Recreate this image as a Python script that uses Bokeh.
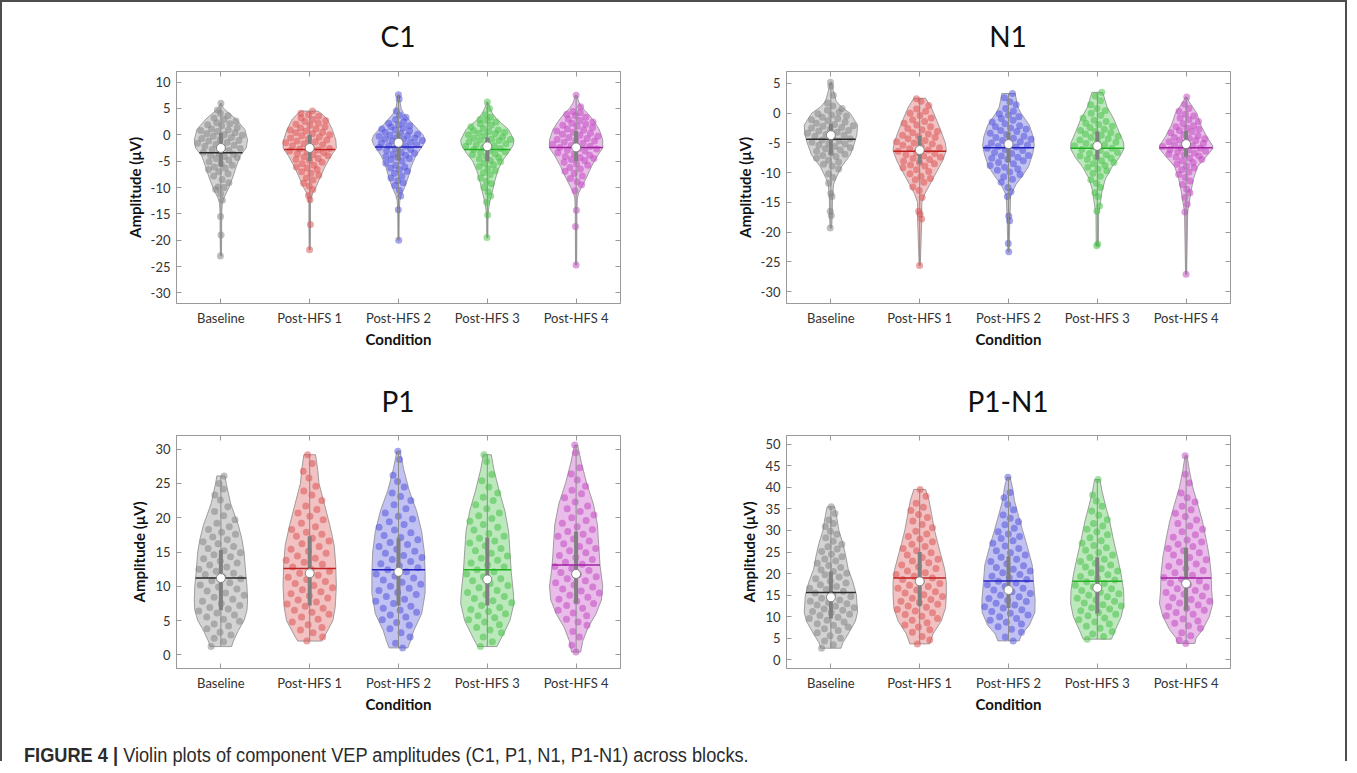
import numpy as np
from bokeh.plotting import figure
from bokeh.models import FixedTicker, LinearAxis, Range1d, Div
from bokeh.layouts import row, column
from bokeh.embed import file_html
from bokeh.resources import INLINE

conditions = ["Baseline", "Post-HFS 1", "Post-HFS 2", "Post-HFS 3", "Post-HFS 4"]
titles = ["C1", "N1", "P1", "P1-N1"]

# ---------------- C1 ----------------
c1_base_pts = [-23.0, -19.0, -15.5, -12.4, -11.2, -10.4, -10.0, -9.9, -9.1, -8.5,
               -7.8, -7.4, -7.0, -6.6, -6.3, -6.1, -5.8, -5.5, -5.1, -4.8, -4.5, -4.3, -4.1,
               -3.9, -3.7, -3.5, -3.3, -3.0, -2.8, -2.6, -2.4, -2.2, -2.0, -1.8, -1.6, -1.4, -1.2, -1.1,
               -0.9, -0.7, -0.5, -0.3, -0.1, 0.0, 0.2, 0.4, 0.6, 0.8, 0.9,
               1.1, 1.4, 1.7, 1.9, 2.1, 2.3, 2.6, 2.9, 3.2, 3.6, 4.1, 4.7, 6.0]
c1_base_lvl = [-23, -19, -15, -13, -12, -10, -8, -6, -4, -2.5, -1, 1, 3, 5, 6]
c1_base_wid = [0.02, 0.03, 0.03, 0.05, 0.11, 0.3, 0.45, 0.58, 0.72, 0.95, 1.0, 0.9, 0.56, 0.1, 0.0]

c1_h1_pts = [-21.8, -17.0, -12.3, -11.5, -10.4, -9.7, -9.2, -8.6, -8.2,
             -7.7, -7.3, -7.0, -6.6, -6.3, -6.1, -5.8, -5.5, -5.2, -4.9, -4.7, -4.5, -4.2, -4.0,
             -3.8, -3.6, -3.4, -3.2, -3.1, -2.9, -2.7, -2.6, -2.4, -2.1, -1.9, -1.7, -1.5, -1.3, -1.2, -1.0,
             -0.8, -0.6, -0.4, -0.2, 0.0, 0.2, 0.4, 0.5, 0.7, 0.9,
             1.1, 1.3, 1.5, 1.8, 2.0, 2.2, 2.5, 2.7, 2.9, 3.2, 3.5, 3.8, 4.1, 4.5]
c1_h1_lvl = [-21.8, -17, -13, -12, -11, -10, -8, -6, -4, -2.5, -1, 1, 3, 4.0, 4.5]
c1_h1_wid = [0.02, 0.03, 0.03, 0.06, 0.12, 0.23, 0.4, 0.58, 0.8, 1.0, 0.98, 0.85, 0.65, 0.45, 0.3]

c1_h2_pts = [-20.0, -14.2, -11.6, -10.5, -9.6, -9.1, -8.7, -8.2,
             -7.8, -7.3, -6.9, -6.6, -6.3, -6.1, -5.8, -5.4, -5.0, -4.7, -4.5, -4.3, -4.1,
             -3.9, -3.7, -3.5, -3.3, -3.0, -2.8, -2.6, -2.4, -2.2, -2.1,
             -1.9, -1.7, -1.5, -1.4, -1.2, -1.1, -0.9, -0.8, -0.6, -0.5, -0.3, -0.2, -0.1,
             0.1, 0.3, 0.5, 0.7, 0.9, 1.1, 1.3, 1.5, 1.7, 1.9,
             2.2, 2.5, 2.9, 3.3, 3.7, 4.5, 6.8, 7.6]
c1_h2_lvl = [-20, -14.2, -12.5, -11.5, -10, -8, -6, -4, -2, -1, 0, 2, 4, 5, 6.5, 7.6]
c1_h2_wid = [0.02, 0.03, 0.05, 0.1, 0.23, 0.37, 0.48, 0.65, 0.92, 1.0, 0.92, 0.55, 0.2, 0.1, 0.05, 0.02]

c1_h3_pts = [-19.5, -15.2, -12.8, -11.6, -10.8, -10.0, -9.3,
             -8.8, -8.2, -7.6, -7.2, -6.8, -6.4, -6.0, -5.7, -5.4, -5.1,
             -4.9, -4.6, -4.3, -4.1, -3.8, -3.6, -3.4, -3.2, -3.0, -2.8, -2.6, -2.4, -2.2, -2.1,
             -1.9, -1.7, -1.5, -1.3, -1.1, -1.0, -0.9, -0.8, -0.6, -0.4, -0.2, 0.0, 0.2, 0.3, 0.5, 0.6, 0.8, 0.9,
             1.2, 1.5, 1.8, 2.1, 2.4, 2.7, 2.9, 3.3, 3.8, 5.0, 6.2]
c1_h3_lvl = [-19.5, -15, -13, -11, -9, -7, -5, -3.5, -2, -1, 1, 3, 4, 5, 6.2]
c1_h3_wid = [0.02, 0.03, 0.08, 0.18, 0.27, 0.38, 0.55, 0.78, 0.97, 1.0, 0.8, 0.35, 0.2, 0.1, 0.02]

c1_h4_pts = [-24.7, -17.4, -14.3, -10.6, -9.5, -8.9, -8.3,
             -7.8, -7.3, -6.9, -6.5, -6.2, -5.8, -5.5, -5.2, -4.9, -4.7, -4.5, -4.3, -4.1,
             -3.9, -3.6, -3.4, -3.1, -2.9, -2.7, -2.6, -2.4, -2.2, -2.0, -1.8, -1.6, -1.4, -1.2, -1.1,
             -0.9, -0.7, -0.5, -0.3, -0.1, 0.1, 0.3, 0.5, 0.7, 0.9,
             1.1, 1.4, 1.6, 1.8, 2.0, 2.2, 2.4, 2.7, 3.0, 3.3, 3.6, 3.9, 4.2, 4.4, 5.3, 7.5]
c1_h4_lvl = [-24.7, -17.4, -14.3, -12, -11, -10, -8, -6, -4, -2.5, -1, 1, 2.5, 4, 5, 6, 7.5]
c1_h4_wid = [0.02, 0.03, 0.03, 0.05, 0.1, 0.2, 0.4, 0.58, 0.8, 1.0, 1.0, 0.87, 0.68, 0.45, 0.25, 0.12, 0.02]

c1_mean = [-3.4, -2.8, -2.3, -2.8, -2.4]
c1_median = [-2.5, -2.5, -1.5, -2.2, -2.4]
c1_q1 = [-6.0, -5.0, -4.8, -5.0, -5.0]
c1_q3 = [0.4, 0.0, 0.5, -0.5, 0.7]

# ---------------- N1 ----------------
n1_base_pts = [-19.3, -17.2, -16.5, -14.0, -13.5, -11.8, -10.8, -10.2, -9.4,
               -8.9, -8.6, -8.2, -7.9, -7.6, -7.3, -7.1,
               -6.9, -6.7, -6.4, -6.2, -6.0, -5.8, -5.6, -5.4, -5.2, -5.1,
               -4.9, -4.7, -4.5, -4.3, -4.1, -3.9, -3.7, -3.6,
               -3.4, -3.2, -3.0, -2.9, -2.7, -2.5, -2.4, -2.2, -2.1,
               -1.9, -1.7, -1.5, -1.3, -1.1, -0.9, -0.7, -0.5, -0.3, -0.1,
               0.2, 0.5, 0.8, 1.2, 1.7, 3.0, 4.5, 5.2]
n1_base_lvl = [-19.3, -17.2, -14, -12, -11, -9, -7, -5, -3.5, -2, 0, 1, 2, 4, 5.2]
n1_base_wid = [0.03, 0.05, 0.06, 0.1, 0.18, 0.4, 0.73, 0.89, 0.98, 1.0, 0.72, 0.4, 0.2, 0.08, 0.02]

n1_h1_pts = [-25.6, -17.8, -17.0, -16.5, -14.2, -13.0, -12.4,
             -11.6, -11.2, -11.0, -10.6, -10.2, -9.8, -9.5, -9.2, -8.9, -8.7, -8.5, -8.3, -8.1,
             -7.8, -7.6, -7.4, -7.2, -7.0, -6.8, -6.6, -6.4, -6.2, -6.0, -5.8, -5.6, -5.4, -5.2, -5.0,
             -4.8, -4.6, -4.3, -4.1, -3.9, -3.7, -3.5, -3.3, -3.1,
             -2.8, -2.6, -2.3, -2.0, -1.7, -1.4, -1.1, -0.8, -0.4, 0.0, 0.3, 0.7, 1.3, 2.0, 2.4]
n1_h1_lvl = [-25.6, -17.8, -15, -13.5, -12, -10, -8, -6.3, -5, -3, -1, 1, 2.5]
n1_h1_wid = [0.02, 0.08, 0.08, 0.2, 0.38, 0.62, 0.86, 1.0, 0.96, 0.8, 0.62, 0.43, 0.22]

n1_h2_pts = [-23.3, -21.9, -18.1, -17.3, -14.0, -13.2, -12.5, -11.6, -11.1, -10.7,
             -10.3, -9.9, -9.6, -9.4, -9.1, -8.8, -8.5, -8.3, -8.0, -7.8, -7.6, -7.4, -7.2, -7.1,
             -6.8, -6.6, -6.3, -6.1, -5.9, -5.7, -5.6, -5.4, -5.2, -5.0, -4.8, -4.6, -4.4, -4.2, -4.1,
             -3.9, -3.6, -3.4, -3.1, -2.9, -2.7, -2.5, -2.3, -2.1,
             -1.8, -1.5, -1.2, -0.9, -0.6, -0.3, -0.1, 0.3, 0.8, 1.4, 1.9, 2.6, 3.3]
n1_h2_lvl = [-23.3, -21.9, -18.1, -14, -13.5, -12, -10.5, -9, -7, -5.5, -4, -2, 0, 1, 3.3]
n1_h2_wid = [0.02, 0.03, 0.05, 0.08, 0.12, 0.28, 0.53, 0.75, 0.9, 0.97, 0.93, 0.78, 0.47, 0.35, 0.25]

n1_h3_pts = [-22.3, -22.0, -16.5, -15.6, -14.0, -13.4, -12.5, -11.8, -11.2,
             -10.6, -10.1, -9.7, -9.4, -9.1, -8.8, -8.5, -8.3, -8.0, -7.8, -7.6,
             -7.4, -7.2, -7.0, -6.8, -6.6, -6.3, -6.1, -5.9, -5.7, -5.5, -5.3, -5.1,
             -4.9, -4.7, -4.5, -4.3, -4.1, -3.9, -3.7, -3.5, -3.3, -3.1,
             -2.9, -2.7, -2.4, -2.2, -1.9, -1.7, -1.4, -1.2,
             -0.8, -0.4, 0.0, 0.4, 0.8, 1.4, 2.1, 2.9, 3.5]
n1_h3_lvl = [-22.3, -22, -17, -15, -13, -11, -9, -7.5, -6, -5, -3, -1, 1, 3.5]
n1_h3_wid = [0.03, 0.04, 0.05, 0.12, 0.18, 0.31, 0.56, 0.82, 1.0, 0.99, 0.8, 0.62, 0.37, 0.2]

n1_h4_pts = [-27.1, -16.6, -15.3, -14.2, -13.4, -12.8, -12.0, -11.4,
             -10.8, -10.3, -9.9, -9.5, -9.2, -8.9, -8.6, -8.3, -8.0, -7.8, -7.6,
             -7.4, -7.2, -7.0, -6.9, -6.7, -6.5, -6.4, -6.2, -6.1, -5.9, -5.8, -5.6, -5.5,
             -5.3, -5.1, -4.9, -4.8, -4.6, -4.5, -4.3, -4.2, -4.1,
             -3.8, -3.6, -3.3, -3.1, -2.9, -2.7, -2.5, -2.3, -2.1,
             -1.8, -1.4, -1.1, -0.8, -0.5, -0.2, 0.3, 0.8, 1.5, 2.7]
n1_h4_lvl = [-27.1, -16.5, -15, -13, -11, -9, -7.5, -6, -5.5, -4, -2, 0, 1, 2, 2.7]
n1_h4_wid = [0.02, 0.06, 0.12, 0.19, 0.28, 0.43, 0.72, 1.0, 1.0, 0.78, 0.55, 0.4, 0.25, 0.1, 0.03]

n1_mean = [-4.4, -6.4, -5.8, -5.9, -5.8]
n1_median = [-3.7, -6.2, -5.2, -5.5, -5.2]
n1_q1 = [-7.0, -8.5, -8.2, -7.8, -7.3]
n1_q3 = [-1.8, -3.8, -3.2, -3.1, -3.0]

# ---------------- P1 ----------------
p1_base_pts = [1.2, 1.9, 2.4, 2.9, 3.3, 3.8, 4.2, 4.5, 4.9, 5.2, 5.5, 5.8, 6.1, 6.4,
               6.7, 6.9, 7.2, 7.5, 7.8, 8.1, 8.4, 8.7, 9.0, 9.3, 9.6, 9.9,
               10.2, 10.5, 10.8, 11.1, 11.4, 11.7, 11.9,
               12.2, 12.5, 12.8, 13.1, 13.4, 13.7, 14.0, 14.3, 14.6, 14.9,
               15.2, 15.5, 15.8, 16.2, 16.5, 16.8, 17.2, 17.6, 17.9, 18.3, 18.7,
               19.2, 19.7, 20.3, 20.9, 21.6, 22.6, 23.3, 24.2, 25.0, 26.1]
p1_base_lvl = [1.2, 2, 3.5, 5, 6.5, 8, 10, 12, 15, 17, 19, 22, 25, 26.1]
p1_base_wid = [0.4, 0.47, 0.65, 0.87, 0.98, 1.0, 0.98, 0.93, 0.87, 0.78, 0.65, 0.37, 0.2, 0.15]

p1_h1_pts = [2.0, 2.6, 3.2, 3.6, 4.0, 4.4, 4.8, 5.2, 5.5, 5.9, 6.2, 6.5, 6.8,
             7.1, 7.4, 7.7, 8.0, 8.3, 8.6, 8.9, 9.2, 9.5, 9.8,
             10.1, 10.4, 10.7, 11.0, 11.3, 11.6, 11.9, 12.2, 12.5, 12.8,
             13.2, 13.5, 13.8, 14.1, 14.4, 14.8, 15.1, 15.4, 15.8,
             16.2, 16.6, 17.0, 17.3, 17.6, 17.9, 18.3, 18.7,
             19.2, 19.7, 20.2, 20.7, 21.2, 21.7, 22.5, 23.3, 23.9, 24.6, 25.8, 26.8, 27.9, 29.2]
p1_h1_lvl = [2.0, 3, 5, 7, 10, 13, 16, 19, 22, 25, 27, 29.2]
p1_h1_wid = [0.45, 0.6, 0.87, 0.96, 1.0, 0.98, 0.92, 0.75, 0.55, 0.35, 0.3, 0.22]

p1_h2_pts = [1.0, 1.7, 2.6, 3.2, 3.8, 4.3, 4.7, 5.1, 5.5, 5.8,
             6.2, 6.5, 6.8, 7.1, 7.5, 7.8, 8.1, 8.5, 8.8,
             9.1, 9.4, 9.7, 10.0, 10.3, 10.6, 10.9, 11.2, 11.5, 11.8,
             12.1, 12.4, 12.7, 13.0, 13.3, 13.6, 13.9, 14.2, 14.5, 14.8,
             15.1, 15.4, 15.8, 16.1, 16.4, 16.8, 17.1, 17.4, 17.8,
             18.2, 18.6, 19.0, 19.4, 19.8, 20.2, 20.7, 21.3, 21.9, 22.5, 23.1, 23.6,
             24.5, 25.3, 26.2, 28.5, 29.7]
p1_h2_lvl = [1.0, 2, 3.5, 6, 9, 12, 15, 18, 21, 24, 27, 29.7]
p1_h2_wid = [0.35, 0.45, 0.57, 0.87, 1.0, 1.0, 0.97, 0.87, 0.68, 0.4, 0.2, 0.06]

p1_h3_pts = [1.2, 1.9, 2.6, 3.2, 3.6, 4.0, 4.4, 4.8, 5.1, 5.4, 5.7, 6.0, 6.3, 6.6, 6.9, 7.2,
             7.6, 7.9, 8.2, 8.5, 8.8, 9.1, 9.4, 9.8, 10.1, 10.4, 10.8, 11.1, 11.4, 11.8,
             12.1, 12.4, 12.8, 13.1, 13.4, 13.8, 14.1, 14.4, 14.8,
             15.2, 15.5, 15.9, 16.3, 16.6, 17.0, 17.3, 17.7,
             18.2, 18.6, 19.0, 19.5, 19.9, 20.3, 20.7, 21.3, 21.9, 22.5, 23.0, 23.6,
             24.5, 25.4, 26.3, 28.2, 29.2]
p1_h3_lvl = [1.2, 3, 5, 7.5, 9, 12, 15, 18, 21, 24, 27, 29.2]
p1_h3_wid = [0.36, 0.6, 0.85, 1.0, 0.98, 0.9, 0.85, 0.8, 0.66, 0.44, 0.25, 0.15]

p1_h4_pts = [0.4, 1.4, 2.6, 3.4, 4.3, 4.8, 5.2, 5.7, 6.1, 6.5, 6.8, 7.2, 7.5, 7.8,
             8.1, 8.4, 8.7, 9.0, 9.3, 9.6, 9.9,
             10.2, 10.5, 10.8, 11.1, 11.4, 11.7, 12.0, 12.3, 12.6, 12.9,
             13.2, 13.5, 13.9, 14.2, 14.5, 14.9, 15.2, 15.5, 15.8,
             16.2, 16.6, 16.9, 17.3, 17.6, 18.0, 18.3, 18.7,
             19.2, 19.6, 20.0, 20.4, 20.9, 21.3, 21.7, 22.3, 22.9, 23.5, 24.0, 24.6,
             25.5, 26.4, 27.3, 29.5, 30.6]
p1_h4_lvl = [0.4, 2, 4, 6, 8, 10, 13, 16, 19, 22, 25, 28, 30.6]
p1_h4_wid = [0.17, 0.25, 0.45, 0.75, 0.95, 1.0, 0.9, 0.85, 0.8, 0.65, 0.4, 0.2, 0.06]

p1_mean = [11.2, 12.6, 12.4, 12.4, 13.1]
p1_median = [11.2, 11.9, 12.1, 11.0, 11.8]
p1_q1 = [6.5, 7.2, 7.2, 7.2, 7.5]
p1_q3 = [15.3, 17.3, 17.0, 17.1, 18.0]

# ---------------- P1-N1 ----------------
pn_base_pts = [2.7, 3.5, 4.4, 5.0, 5.6, 6.3, 6.8, 7.2, 7.6, 8.0, 8.4, 8.8,
               9.2, 9.6, 9.9, 10.3, 10.6, 10.9,
               11.2, 11.5, 11.8, 12.1, 12.4, 12.7, 13.0, 13.3, 13.6, 13.9, 14.3, 14.7,
               15.1, 15.5, 15.9, 16.3, 16.6, 17.0, 17.4, 17.8,
               18.3, 18.8, 19.2, 19.7, 20.1, 20.5, 20.9, 21.4, 21.9, 22.4, 22.9, 23.4, 23.9,
               24.5, 25.1, 25.7, 26.2, 26.8, 27.5, 28.3, 29.1, 29.8, 30.9, 31.6, 32.4, 33.9, 35.5]
pn_base_lvl = [2.7, 4, 6, 9, 11, 15, 18, 21, 24, 27, 30, 33, 35.5]
pn_base_wid = [0.38, 0.45, 0.65, 0.92, 1.0, 0.96, 0.83, 0.65, 0.56, 0.45, 0.3, 0.22, 0.14]

pn_h1_pts = [3.7, 4.6, 5.4, 6.4, 7.0, 7.6, 8.1, 8.6,
             9.2, 9.6, 10.1, 10.5, 10.9, 11.3, 11.7,
             12.2, 12.5, 12.9, 13.3, 13.6, 14.0, 14.3, 14.7,
             15.1, 15.5, 15.8, 16.2, 16.6, 17.0, 17.3, 17.7,
             18.2, 18.6, 19.0, 19.4, 19.8, 20.2, 20.6, 21.2, 21.6, 22.0, 22.5, 22.9, 23.3, 23.7,
             24.3, 24.8, 25.3, 25.8, 26.3, 26.8, 27.4, 28.0, 28.6, 29.2, 29.8,
             30.6, 31.4, 32.2, 33.0, 33.7, 34.6, 35.4, 36.3, 37.9, 39.5]
pn_h1_lvl = [3.7, 6, 9, 12, 15, 18, 21, 24, 27, 30, 34, 37, 39.5]
pn_h1_wid = [0.37, 0.5, 0.81, 0.97, 1.0, 1.0, 0.94, 0.81, 0.68, 0.56, 0.44, 0.35, 0.22]

pn_h2_pts = [4.4, 5.3, 6.4, 7.1, 7.7, 8.3, 8.7, 9.2, 9.6, 10.0, 10.4, 10.8,
             11.2, 11.6, 12.0, 12.3, 12.7, 13.1, 13.5, 13.8,
             14.2, 14.6, 15.0, 15.4, 15.8, 16.2, 16.6, 17.0, 17.4, 17.8,
             18.2, 18.6, 19.0, 19.4, 19.8, 20.2, 20.6, 21.0, 21.4, 21.8,
             22.3, 22.8, 23.3, 23.8, 24.3, 24.8, 25.3, 25.8,
             26.4, 27.0, 27.6, 28.1, 28.6, 29.2, 29.7, 30.5, 31.3, 32.0, 32.8, 33.6,
             34.8, 36.0, 37.6, 38.8, 42.3]
pn_h2_lvl = [4.4, 6, 8, 11, 14, 18, 22, 26, 30, 34, 37, 40, 42.3]
pn_h2_wid = [0.4, 0.5, 0.78, 0.99, 1.0, 0.94, 0.89, 0.72, 0.53, 0.35, 0.22, 0.15, 0.06]

pn_h3_pts = [4.8, 5.4, 6.0, 6.6, 7.3, 7.8, 8.3, 8.8, 9.3, 9.7,
             10.2, 10.6, 11.0, 11.4, 11.8, 12.1, 12.5, 12.8,
             13.2, 13.6, 13.9, 14.3, 14.6, 15.0, 15.3, 15.7,
             16.1, 16.5, 16.9, 17.3, 17.7, 18.1, 18.5, 18.9, 19.3, 19.7,
             20.2, 20.6, 21.1, 21.5, 22.0, 22.4, 22.8, 23.3, 23.7,
             24.3, 24.9, 25.4, 26.0, 26.5, 27.0, 27.6, 28.3, 29.0, 29.7, 30.3, 31.0, 31.6,
             32.5, 33.5, 34.5, 35.6, 36.8, 38.2, 41.8]
pn_h3_lvl = [4.8, 7, 10, 13, 16, 20, 24, 28, 32, 36, 39, 41.8]
pn_h3_wid = [0.53, 0.68, 0.9, 1.0, 0.99, 0.89, 0.75, 0.6, 0.47, 0.3, 0.18, 0.1]

pn_h4_pts = [3.8, 4.6, 5.6, 6.3, 7.3, 7.9, 8.5, 9.0, 9.5,
             10.2, 10.6, 11.0, 11.5, 11.9, 12.3, 12.7,
             13.2, 13.6, 14.0, 14.4, 14.8, 15.2, 15.6,
             16.1, 16.5, 16.9, 17.4, 17.8, 18.3, 18.7, 19.1, 19.6,
             20.2, 20.7, 21.2, 21.7, 22.2, 22.7, 23.2, 23.7,
             24.3, 24.8, 25.3, 25.8, 26.3, 26.8, 27.3, 27.8,
             28.4, 29.0, 29.7, 30.3, 31.0, 31.6, 32.4, 33.2, 34.0, 34.8, 35.6,
             36.6, 37.6, 38.7, 41.0, 43.0, 47.3]
pn_h4_lvl = [3.8, 5, 7, 10, 13, 16, 20, 24, 28, 32, 36, 40, 44, 47.3]
pn_h4_wid = [0.33, 0.37, 0.62, 0.87, 1.0, 0.96, 0.94, 0.87, 0.75, 0.62, 0.44, 0.25, 0.12, 0.04]

pn_mean = [15.6, 19.0, 18.3, 18.2, 19.0]
pn_median = [14.5, 18.2, 16.2, 16.7, 17.7]
pn_q1 = [9.6, 12.4, 12.0, 10.8, 11.5]
pn_q3 = [20.5, 25.0, 24.0, 23.8, 26.0]

c1_ticks = [-30, -25, -20, -15, -10, -5, 0, 5, 10]
n1_ticks = [-30, -25, -20, -15, -10, -5, 0, 5]
p1_ticks = [0, 5, 10, 15, 20, 25, 30]
pn_ticks = [0, 5, 10, 15, 20, 25, 30, 35, 40, 45, 50]

# ---------------- styling ----------------
FILL = ["#808080", "#d94c4c", "#4c4cd9", "#3fbf3f", "#bf40bf"]
MEANC = ["#2a2a2a", "#c02020", "#2020c0", "#20b020", "#a020a0"]
HALF = 0.3
FONT = "Lato"
AXC = "#9a9a9a"


def make_panel(pts, lvls, wids, means, medians, q1s, q3s, yr, ticks,
               bl, br, bt, bb, fh):
    p = figure(frame_width=444, frame_height=fh,
               x_range=Range1d(0.5, 5.5), y_range=Range1d(*yr),
               output_backend="svg", toolbar_location=None,
               min_border_left=bl, min_border_right=br,
               min_border_top=bt, min_border_bottom=bb)
    p.xgrid.visible = False
    p.ygrid.visible = False
    p.outline_line_color = AXC
    p.background_fill_color = "white"
    p.border_fill_color = "white"

    xt = FixedTicker(ticks=[1, 2, 3, 4, 5])
    yt = FixedTicker(ticks=ticks)
    xb = p.xaxis[0]
    yl = p.yaxis[0]
    xb.ticker = xt
    xb.major_label_overrides = {i + 1: c for i, c in enumerate(conditions)}
    xb.axis_label = "Condition"
    yl.ticker = yt
    yl.major_label_overrides = {t: str(t) for t in ticks}
    yl.axis_label = "Amplitude (\u03bcV)"
    top = LinearAxis(ticker=xt, major_label_overrides={i + 1: "" for i in range(5)},
                     major_label_standoff=0)
    right = LinearAxis(ticker=yt, major_label_overrides={t: "" for t in ticks},
                       major_label_standoff=0)
    p.add_layout(top, "above")
    p.add_layout(right, "right")
    for ax in [xb, yl, top, right]:
        ax.axis_line_color = AXC
        ax.major_tick_line_color = AXC
        ax.major_tick_in = 5
        ax.major_tick_out = 0
        ax.minor_tick_line_color = None
    for ax in [xb, yl]:
        ax.major_label_text_font = FONT
        ax.major_label_text_color = "#333333"
        ax.major_label_text_font_size = "13px"
        ax.major_label_standoff = 6
        ax.axis_label_text_font = FONT
        ax.axis_label_text_font_style = "bold"
        ax.axis_label_text_color = "#111111"
        ax.axis_label_text_font_size = "15px"
    xb.axis_label_standoff = 1
    yl.axis_label_standoff = 4

    for i in range(5):
        pos = i + 1
        lv = np.array(lvls[i], dtype=float)
        wd = np.array(wids[i], dtype=float) * HALF
        xs = np.concatenate([pos + wd, (pos - wd)[::-1]])
        ys = np.concatenate([lv, lv[::-1]])
        p.patch(xs, ys, fill_color=FILL[i], fill_alpha=0.35,
                line_color="#8a8a8a", line_width=0.8)
        y = np.array(pts[i], dtype=float)
        u = 2.0 * ((np.arange(len(y)) * 0.6180339887 + 0.37 * i) % 1.0) - 1.0
        x = pos + u * 0.92 * np.interp(y, lv, wd)
        p.scatter(x, y, size=7, fill_color=FILL[i], fill_alpha=0.5, line_color=None)
        p.segment(x0=[pos], y0=[y.min()], x1=[pos], y1=[y.max()],
                  line_color="#8c8c8c", line_width=1)
        p.segment(x0=[pos], y0=[q1s[i]], x1=[pos], y1=[q3s[i]],
                  line_color="#808080", line_width=4)
        mw = float(np.interp(means[i], lv, wd))
        p.segment(x0=[pos - mw], y0=[means[i]], x1=[pos + mw], y1=[means[i]],
                  line_color=MEANC[i], line_width=1.5)
        p.scatter([pos], [medians[i]], size=9, fill_color="white",
                  line_color="#808080", line_width=1)
    return p


def title_div(text, width, pl, pr, pt):
    return Div(text=text, width=width, height=45, margin=0,
               styles={"font-family": FONT, "font-size": "28px", "line-height": "34px",
                       "color": "#111111", "text-align": "center",
                       "padding-left": f"{pl}px", "padding-right": f"{pr}px",
                       "padding-top": f"{pt}px", "box-sizing": "border-box"})


f1 = make_panel([c1_base_pts, c1_h1_pts, c1_h2_pts, c1_h3_pts, c1_h4_pts],
                [c1_base_lvl, c1_h1_lvl, c1_h2_lvl, c1_h3_lvl, c1_h4_lvl],
                [c1_base_wid, c1_h1_wid, c1_h2_wid, c1_h3_wid, c1_h4_wid],
                c1_mean, c1_median, c1_q1, c1_q3, (-32, 12), c1_ticks,
                174, 61, 24, 66, 232)
f2 = make_panel([n1_base_pts, n1_h1_pts, n1_h2_pts, n1_h3_pts, n1_h4_pts],
                [n1_base_lvl, n1_h1_lvl, n1_h2_lvl, n1_h3_lvl, n1_h4_lvl],
                [n1_base_wid, n1_h1_wid, n1_h2_wid, n1_h3_wid, n1_h4_wid],
                n1_mean, n1_median, n1_q1, n1_q3, (-32, 7), n1_ticks,
                105, 115, 24, 66, 232)
f3 = make_panel([p1_base_pts, p1_h1_pts, p1_h2_pts, p1_h3_pts, p1_h4_pts],
                [p1_base_lvl, p1_h1_lvl, p1_h2_lvl, p1_h3_lvl, p1_h4_lvl],
                [p1_base_wid, p1_h1_wid, p1_h2_wid, p1_h3_wid, p1_h4_wid],
                p1_mean, p1_median, p1_q1, p1_q3, (-2, 32), p1_ticks,
                174, 61, 21, 61, 233)
f4 = make_panel([pn_base_pts, pn_h1_pts, pn_h2_pts, pn_h3_pts, pn_h4_pts],
                [pn_base_lvl, pn_h1_lvl, pn_h2_lvl, pn_h3_lvl, pn_h4_lvl],
                [pn_base_wid, pn_h1_wid, pn_h2_wid, pn_h3_wid, pn_h4_wid],
                pn_mean, pn_median, pn_q1, pn_q3, (-2, 52), pn_ticks,
                105, 115, 21, 61, 233)

t1 = title_div(titles[0], 679, 174, 61, 17)
t2 = title_div(titles[1], 664, 105, 115, 17)
t3 = title_div(titles[2], 679, 174, 61, 15)
t4 = title_div(titles[3], 664, 105, 115, 15)

caption = Div(
    text=("<span style=\"display:inline-block; white-space:nowrap; transform:scaleX(0.91); "
          "transform-origin:left center;\"><b>FIGURE 4 |</b> Violin plots of component VEP "
          "amplitudes (C1, P1, N1, P1-N1) across blocks.</span>"),
    width=1343, height=32, margin=0,
    styles={"font-family": "'Liberation Sans', Arial, sans-serif",
            "font-size": "20px", "line-height": "20px", "color": "#2b2b2b",
            "padding-left": "22px", "padding-top": "16px", "box-sizing": "border-box",
            "overflow": "visible"})

layout = column(row(column(t1, f1), column(t2, f2)),
                row(column(t3, f3), column(t4, f4)),
                caption,
                styles={"border-top": "2px solid #4d4d4d",
                        "border-left": "2px solid #4d4d4d",
                        "border-right": "2px solid #4d4d4d"})

open("out.html", "w").write(file_html(layout, INLINE))
